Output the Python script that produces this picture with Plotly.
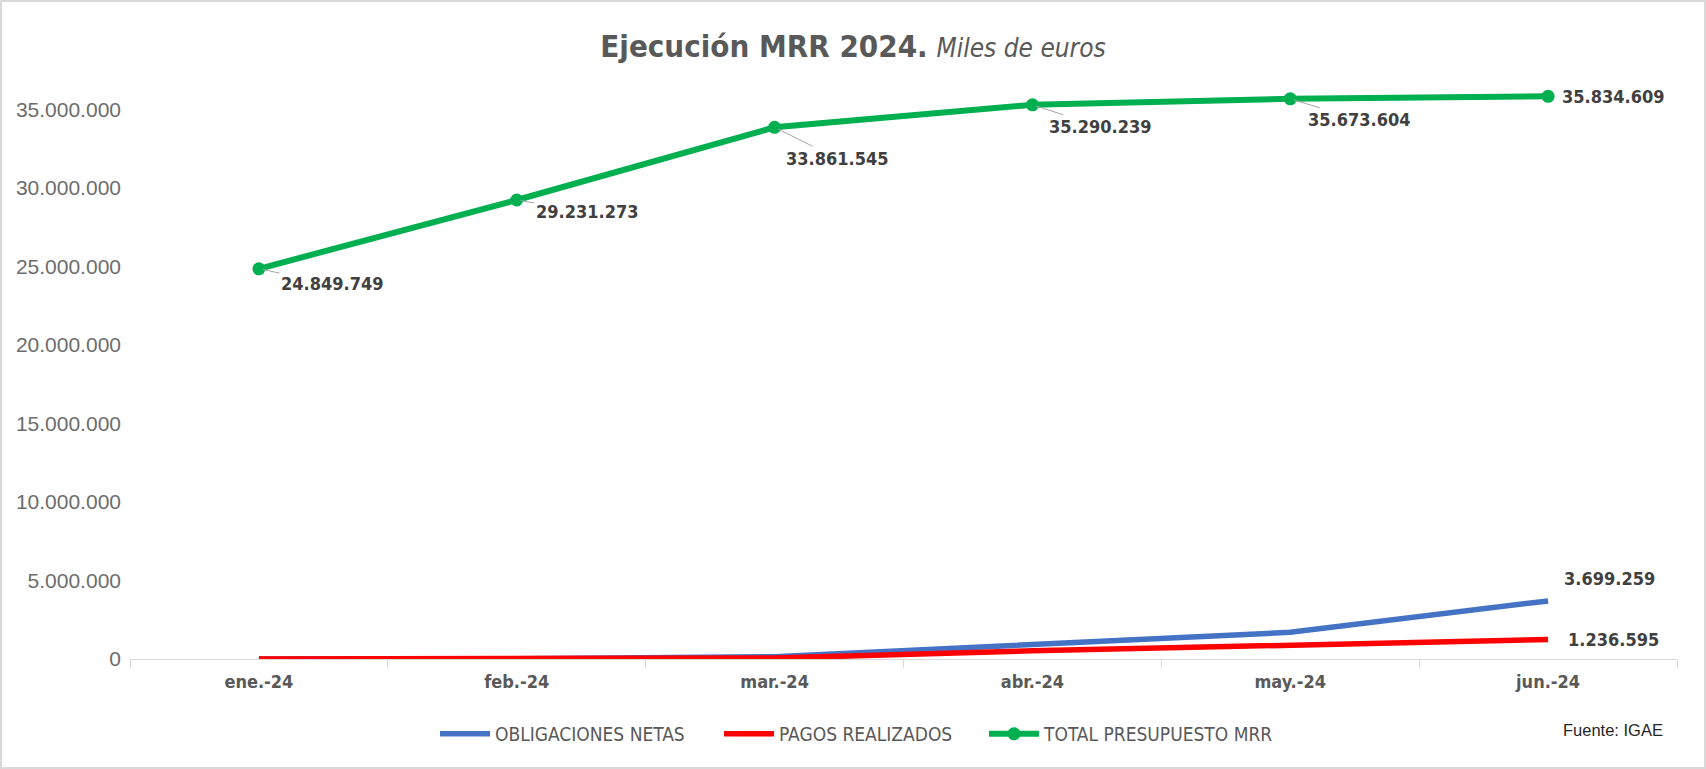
import plotly.graph_objects as go

months = ["ene.-24", "feb.-24", "mar.-24", "abr.-24", "may.-24", "jun.-24"]
obligaciones = [0, 15000, 150000, 950000, 1700000, 3699259]
pagos = [0, 5000, 60000, 520000, 910000, 1236595]
total = [24849749, 29231273, 33861545, 35290239, 35673604, 35834609]
y_ticks = [0, 5000000, 10000000, 15000000, 20000000, 25000000, 30000000, 35000000]

W, H = 1706, 769
ML, MR, MT, MB = 130, 29, 78, 110
PW, PH = W - ML - MR, H - MT - MB

NARROW = "DejaVu Sans Condensed, Liberation Sans Narrow, sans-serif"
REG = "Liberation Sans, Arial, sans-serif"


def fmt(v):
    return f"{v:,.0f}".replace(",", ".")


fig = go.Figure()
fig.add_trace(go.Scatter(x=months, y=obligaciones, name="OBLIGACIONES NETAS", mode="lines",
                         line=dict(color="#4472C4", width=5.5), legend="legend"))
fig.add_trace(go.Scatter(x=months, y=pagos, name="PAGOS REALIZADOS", mode="lines",
                         line=dict(color="#FF0000", width=5.5), legend="legend2"))
fig.add_trace(go.Scatter(x=months, y=total, name="TOTAL PRESUPUESTO MRR", mode="lines+markers",
                         line=dict(color="#00B050", width=6),
                         marker=dict(color="#00B050", size=13, symbol="circle"), legend="legend3"))

label_font = dict(family=NARROW, size=18, color="#404040", weight="bold")
# green labels with leader lines
green_offsets = [(73, 15), (70, 12), (62, 31), (68, 22), (69, 21), (65, 0)]
for i, (m, v) in enumerate(zip(months, total)):
    ax, ay = green_offsets[i]
    last = i == len(months) - 1
    fig.add_annotation(x=m, y=v, xref="x", yref="y", text=fmt(v), font=label_font,
                       showarrow=True, arrowhead=0, arrowwidth=1,
                       arrowcolor="rgba(0,0,0,0)" if last else "#A6A6A6",
                       standoff=4, ax=ax, ay=ay,
                       xanchor="center", yanchor="middle")
fig.add_annotation(x=months[-1], y=obligaciones[-1], text=fmt(obligaciones[-1]), font=label_font,
                   showarrow=True, arrowcolor="rgba(0,0,0,0)", ax=61, ay=-22,
                   xanchor="center", yanchor="middle")
fig.add_annotation(x=months[-1], y=pagos[-1], text=fmt(pagos[-1]), font=label_font,
                   showarrow=True, arrowcolor="rgba(0,0,0,0)", ax=65, ay=0,
                   xanchor="center", yanchor="middle")

fig.add_annotation(text="Fuente: IGAE", xref="paper", yref="paper",
                   x=(1613 - ML) / PW, y=(H - MB - 730) / PH, showarrow=False,
                   xanchor="center", yanchor="middle",
                   font=dict(family=REG, size=16.5, color="#262626"))

# outer border
fig.add_shape(type="rect", xref="paper", yref="paper",
              x0=-(ML - 1) / PW, x1=1 + (MR - 1) / PW, y0=-(MB - 1) / PH, y1=1 + (MT - 1) / PH,
              line=dict(color="#D9D9D9", width=2), fillcolor="rgba(0,0,0,0)", layer="below")

leg_common = dict(orientation="h", xref="container", yref="container",
                  xanchor="left", y=1 - 734 / H, yanchor="middle",
                  font=dict(family=NARROW, size=19, color="#595959"),
                  itemwidth=50, bgcolor="rgba(0,0,0,0)")

fig.update_layout(
    width=W, height=H,
    margin=dict(l=ML, r=MR, t=MT, b=MB),
    paper_bgcolor="white", plot_bgcolor="white",
    title=dict(
        text="<b>Ejecución MRR 2024.</b> <i><span style='font-size:26px'>Miles de euros</span></i>",
        x=0.5, xref="container", xanchor="center",
        y=1 - 46 / H, yref="container", yanchor="middle",
        font=dict(family=NARROW, size=31, color="#595959"),
    ),
    showlegend=True,
    legend=dict(leg_common, x=(437 - 2) / W),
    legend2=dict(leg_common, x=(721 - 2) / W),
    legend3=dict(leg_common, x=(986 - 2) / W),
    xaxis=dict(type="category", range=[-0.5, len(months) - 0.5],
               showgrid=False, zeroline=False, showline=True, linecolor="#D9D9D9", linewidth=1,
               ticks="outside", tickson="boundaries", ticklen=8, tickcolor="#D9D9D9",
               ticklabelstandoff=6,
               tickfont=dict(family=NARROW, size=18, color="#595959", weight="bold")),
    yaxis=dict(range=[0, 37000000], tickvals=y_ticks, ticktext=[fmt(v) for v in y_ticks],
               showgrid=False, zeroline=False, showline=False, ticks="",
               ticklabelstandoff=8,
               tickfont=dict(family=REG, size=21, color="#6D6D6D")),
)

fig.write_html("out.html", include_plotlyjs=True, config={"displayModeBar": False},
               post_script="document.body.style.margin='0';document.body.style.overflow='hidden';")
